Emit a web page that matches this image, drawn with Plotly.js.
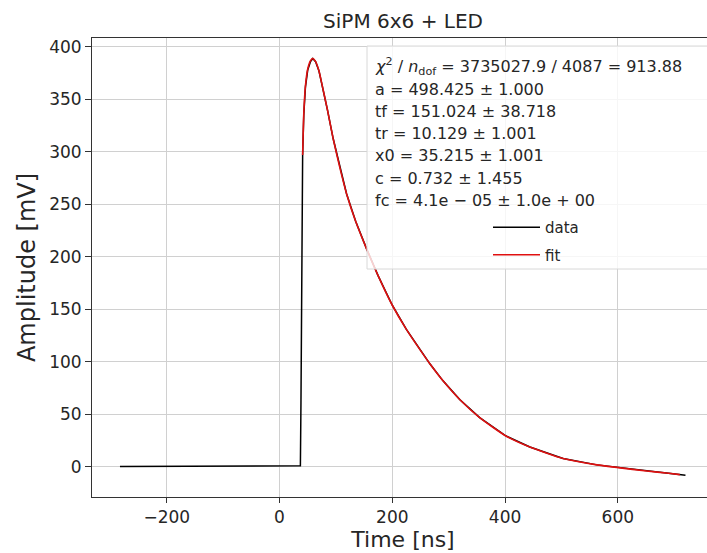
<!DOCTYPE html>
<html>
<head>
<meta charset="utf-8">
<script src="https://cdn.plot.ly/plotly-3.0.1.min.js"></script>
<style>
html, body { margin: 0; padding: 0; overflow: hidden; background: #fff; }
#chart { width: 720px; height: 553px; }
</style>
</head>
<body>
<div id="chart"></div>
<script>
// Measured waveform (Time [ns], Amplitude [mV])
const dataTime = [-283, -250, -200, -150, -100, -50, 0, 30, 37, 38, 39, 40, 41, 43, 46, 50, 55, 59, 64, 70, 75, 85, 95, 107, 119, 135, 155, 175, 200, 225, 250, 267, 290, 320, 355, 400, 444, 503, 563, 601, 651, 690, 720];
const dataAmp  = [0.5, 0.6, 0.5, 0.7, 0.6, 0.8, 0.9, 1.0, 1.2, 60, 160, 250, 297, 335, 362, 378, 386, 389, 386, 377, 365, 340, 313, 285, 260, 234, 207, 182, 154, 131, 111, 98, 82, 64, 47, 30, 19, 8, 2, -0.6, -3.9, -6, -7.8];

// Fit curve
const fitTime = [41, 43, 46, 50, 55, 59, 64, 70, 75, 85, 95, 107, 119, 135, 155, 175, 200, 225, 250, 267, 290, 320, 355, 400, 444, 503, 563, 601, 651, 690, 710];
const fitAmp  = [297, 336, 363, 379, 387, 389, 386, 377, 365, 340, 313, 285, 260, 234, 207, 182, 154, 131, 111, 98, 82, 64, 47, 30, 19, 8, 2, -0.6, -3.9, -6, -7.3];

const xTicks = [-200, 0, 200, 400, 600];
const yTicks = [0, 50, 100, 150, 200, 250, 300, 350, 400];

const statLines = [
  "<i>χ</i><sup>2</sup> / <i>n</i><sub>dof</sub> = 3735027.9 / 4087 = 913.88",
  "a = 498.425 ± 1.000",
  "tf = 151.024 ± 38.718",
  "tr = 10.129 ± 1.001",
  "x0 = 35.215 ± 1.001",
  "c = 0.732 ± 1.455",
  "fc = 4.1e − 05 ± 1.0e + 00"
];

const FONT = "DejaVu Sans, Liberation Sans, sans-serif";
const TXT = "#262626";

// geometry helpers (plot area px -> paper)
const W = 720, H = 553, ML = 92, MR = 6, MT = 38, MB = 56;
const PW = W - ML - MR, PH = H - MT - MB;
const px2x = p => (p - ML) / PW;
const py2y = p => (H - MB - p) / PH;

const annotations = statLines.map((t, i) => ({
  text: t, xref: "paper", yref: "paper",
  x: px2x(373), y: py2y(67 + i * 22.2),
  xanchor: "left", yanchor: "middle", showarrow: false,
  font: {family: FONT, size: 16, color: TXT}
}));

const traces = [
  {x: dataTime, y: dataAmp, type: "scatter", mode: "lines", name: "data",
   legendgroup: "g1", line: {color: "#000000", width: 1.5}},
  {x: fitTime, y: fitAmp, type: "scatter", mode: "lines", name: "fit",
   legendgroup: "g2", line: {color: "#e01010", width: 1.6, shape: "spline", smoothing: 0.5}}
];

const layout = {
  width: W, height: H,
  margin: {l: ML, r: MR, t: MT, b: MB},
  paper_bgcolor: "#ffffff", plot_bgcolor: "#ffffff",
  font: {family: FONT, color: TXT},
  title: {text: "SiPM 6x6 + LED", font: {family: FONT, size: 20, color: TXT},
          x: 0.5, xref: "paper", xanchor: "center", y: 1 - 21 / H, yanchor: "middle"},
  xaxis: {
    range: [-332.6, 770.6], tickvals: xTicks, ticktext: xTicks.map(v => v < 0 ? "−" + Math.abs(v) : String(v)),
    showgrid: true, gridcolor: "#d0d0d0", gridwidth: 1, zeroline: false,
    showline: true, mirror: true, linecolor: "#333", linewidth: 1,
    ticks: "outside", ticklen: 5, tickcolor: "#333",
    tickfont: {family: FONT, size: 17, color: TXT},
    title: {text: "Time [ns]", font: {family: FONT, size: 22, color: TXT}, standoff: 5}
  },
  yaxis: {
    range: [-28.6, 408.5], tickvals: yTicks,
    showgrid: true, gridcolor: "#d0d0d0", gridwidth: 1, zeroline: false,
    showline: true, mirror: true, linecolor: "#333", linewidth: 1,
    ticks: "outside", ticklen: 6, tickcolor: "#333",
    tickfont: {family: FONT, size: 17, color: TXT},
    title: {text: "Amplitude [mV]", font: {family: FONT, size: 24, color: TXT}, standoff: 6}
  },
  showlegend: true,
  legend: {
    x: px2x(488), y: py2y(211), xanchor: "left", yanchor: "top",
    bgcolor: "rgba(0,0,0,0)", borderwidth: 0, tracegroupgap: 5, itemwidth: 47,
    font: {family: FONT, size: 15, color: TXT}
  },
  shapes: [{
    type: "rect", xref: "paper", yref: "paper", layer: "above",
    x0: px2x(367), x1: px2x(708), y0: py2y(269), y1: py2y(46),
    fillcolor: "rgba(255,255,255,0.8)", line: {color: "#d8d8d8", width: 1}
  }],
  annotations: annotations
};

Plotly.newPlot("chart", traces, layout, {displayModeBar: false, staticPlot: true});
</script>
</body>
</html>
